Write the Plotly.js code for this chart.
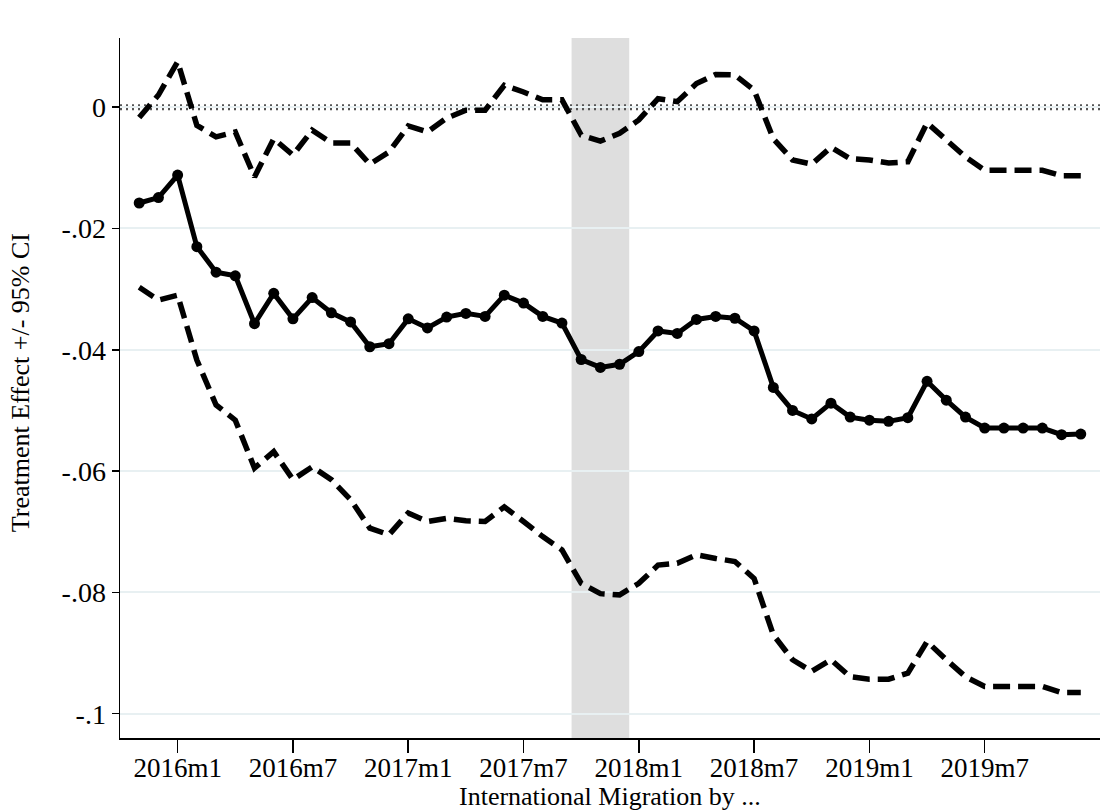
<!DOCTYPE html>
<html>
<head>
<meta charset="utf-8">
<script src="https://cdn.plot.ly/plotly-3.0.1.min.js"></script>
<style>html,body{margin:0;padding:0;background:#fff;}#chart{width:1117px;height:812px;}</style>
</head>
<body>
<div id="chart"></div>
<script>
var months = ['2015m11','2015m12',
  '2016m1','2016m2','2016m3','2016m4','2016m5','2016m6','2016m7','2016m8','2016m9','2016m10','2016m11','2016m12',
  '2017m1','2017m2','2017m3','2017m4','2017m5','2017m6','2017m7','2017m8','2017m9','2017m10','2017m11','2017m12',
  '2018m1','2018m2','2018m3','2018m4','2018m5','2018m6','2018m7','2018m8','2018m9','2018m10','2018m11','2018m12',
  '2019m1','2019m2','2019m3','2019m4','2019m5','2019m6','2019m7','2019m8','2019m9','2019m10','2019m11','2019m12'];

var effect = [-0.0158,-0.0149,
  -0.0112,-0.0230,-0.0272,-0.0278,-0.0357,-0.0307,-0.0349,-0.0314,-0.0339,-0.0354,-0.0395,-0.0390,
  -0.0349,-0.0364,-0.0346,-0.0340,-0.0345,-0.0310,-0.0323,-0.0345,-0.0356,-0.0416,-0.0429,-0.0424,
  -0.0403,-0.0369,-0.0373,-0.0350,-0.0345,-0.0348,-0.0369,-0.0462,-0.0500,-0.0514,-0.0488,-0.0511,
  -0.0516,-0.0518,-0.0512,-0.0452,-0.0483,-0.0511,-0.0529,-0.0529,-0.0529,-0.0529,-0.0540,-0.0539];

var upperCI = [-0.0017,0.0020,
  0.0075,-0.0030,-0.0049,-0.0041,-0.0115,-0.0052,-0.0079,-0.0038,-0.0059,-0.0059,-0.0094,-0.0074,
  -0.0031,-0.0041,-0.0018,-0.0005,-0.0005,0.0036,0.0025,0.0012,0.0012,-0.0046,-0.0056,-0.0043,
  -0.0021,0.0014,0.0009,0.0039,0.0054,0.0053,0.0028,-0.0052,-0.0087,-0.0094,-0.0066,-0.0085,
  -0.0087,-0.0092,-0.0090,-0.0026,-0.0054,-0.0082,-0.0104,-0.0104,-0.0104,-0.0104,-0.0113,-0.0113];

var lowerCI = [-0.0297,-0.0318,
  -0.0310,-0.0417,-0.0491,-0.0516,-0.0595,-0.0568,-0.0614,-0.0593,-0.0614,-0.0647,-0.0694,-0.0705,
  -0.0669,-0.0683,-0.0678,-0.0682,-0.0683,-0.0659,-0.0683,-0.0708,-0.0730,-0.0785,-0.0802,-0.0804,
  -0.0785,-0.0755,-0.0752,-0.0738,-0.0744,-0.0749,-0.0777,-0.0870,-0.0911,-0.0930,-0.0911,-0.0939,
  -0.0943,-0.0943,-0.0933,-0.0881,-0.0911,-0.0939,-0.0955,-0.0955,-0.0955,-0.0955,-0.0965,-0.0965];

var xTickVals = ['2016m1','2016m7','2017m1','2017m7','2018m1','2018m7','2019m1','2019m7'];
var yTickVals = [0,-0.02,-0.04,-0.06,-0.08,-0.1];
var yTickText = ['0','-.02','-.04','-.06','-.08','-.1'];
var shadeStart = '2017m10', shadeEnd = '2017m12';
var xTitle = 'International Migration by ...';
var yTitle = 'Treatment Effect +/- 95% CI';

var FONT = 'Liberation Serif, Times New Roman, serif';
var ciLine = {color:'#000', width:5.5, dash:'17px,8px'};

var traces = [
  {x:months, y:upperCI, type:'scatter', mode:'lines', line:ciLine, hoverinfo:'skip', showlegend:false},
  {x:months, y:lowerCI, type:'scatter', mode:'lines', line:ciLine, hoverinfo:'skip', showlegend:false},
  {x:months, y:effect, type:'scatter', mode:'lines+markers', line:{color:'#000', width:5},
   marker:{color:'#000', size:11}, showlegend:false}
];

var i0 = months.indexOf(shadeStart), i1 = months.indexOf(shadeEnd);

var layout = {
  width:1117, height:812,
  margin:{l:120, r:17, t:38, b:74},
  paper_bgcolor:'#fff', plot_bgcolor:'#fff',
  font:{family:FONT, color:'#000', size:27},
  showlegend:false,
  xaxis:{
    type:'category', categoryorder:'array', categoryarray:months,
    range:[-1, months.length],
    tickmode:'array', tickvals:xTickVals, ticktext:xTickVals,
    ticks:'outside', ticklen:13, tickwidth:1.5, tickcolor:'#000',
    ticklabelstandoff:-8,
    showline:true, linecolor:'#000', linewidth:1.5,
    showgrid:false, zeroline:false,
    tickfont:{family:FONT, size:27, color:'#000'}
  },
  yaxis:{
    range:[-0.104, 0.0114],
    tickmode:'array', tickvals:yTickVals, ticktext:yTickText,
    ticks:'outside', ticklen:7, tickwidth:1.5, tickcolor:'#000',
    showline:true, linecolor:'#000', linewidth:1.5,
    showgrid:true, gridcolor:'#e8f0f2', gridwidth:2, zeroline:false,
    tickfont:{family:FONT, size:28, color:'#000'}
  },
  shapes:[
    {type:'rect', xref:'x', yref:'paper', x0:i0-0.5, x1:i1+0.5, y0:0, y1:1,
     fillcolor:'#dedede', line:{width:0}, layer:'below'},
    {type:'line', xref:'paper', yref:'y', x0:0, x1:1, y0:0, y1:0,
     line:{color:'#555', width:6, dash:'2px,4px'}, layer:'between'}
  ],
  annotations:[
    {text:xTitle, xref:'paper', yref:'paper', x:0.5, y:-0.084, xanchor:'center', yanchor:'middle',
     showarrow:false, font:{family:FONT, size:26, color:'#000'}},
    {text:yTitle, xref:'paper', yref:'paper', x:-0.102, y:0.507, xanchor:'center', yanchor:'middle',
     textangle:-90, showarrow:false, font:{family:FONT, size:26, color:'#000'}}
  ]
};

Plotly.newPlot('chart', traces, layout, {displayModeBar:false, staticPlot:true});
</script>
</body>
</html>
